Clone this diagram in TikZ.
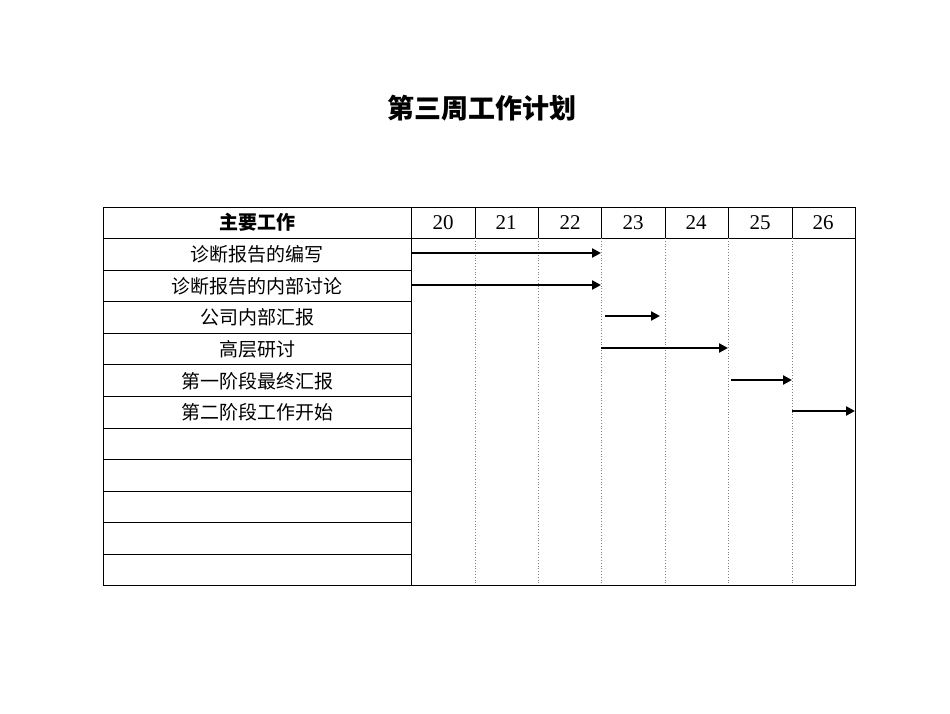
\documentclass[tikz,border=0pt]{standalone}
\usepackage{fontspec}
\setmainfont{Liberation Serif}
\newfontfamily\cjk{Noto Sans CJK SC}
\usetikzlibrary{arrows.meta}
\begin{document}
\begin{tikzpicture}[x=1pt,y=-1pt,
  grid/.style={line width=1pt,black},
  dotline/.style={line width=0.8pt,gray,dotted},
  bar/.style={line width=2.6pt,-{Triangle[length=9pt,width=9pt]}},
  cell/.style={font=\cjk\fontsize{19}{19}\selectfont,inner sep=0pt},
  num/.style={font=\fontsize{21}{21}\selectfont,inner sep=0pt}]
\useasboundingbox (0,0) rectangle (950,713);
\node[font=\cjk\bfseries\fontsize{27}{27}\selectfont] (title) at (482,108) {第三周工作计划};
% header
\draw[grid] (103,207) rectangle (855,585);
\draw[grid] (103,238) -- (855,238);
\draw[grid] (411,207) -- (411,585);
\foreach \x in {475,538,601,665,728,792} {\draw[grid,line width=0.8pt] (\x,207) -- (\x,238); \draw[dotline] (\x,238) -- (\x,585);}
\foreach \y in {270,301,333,364,396,428,459,491,522,554} \draw[grid] (103,\y) -- (411,\y);
\node[font=\cjk\bfseries\fontsize{19}{19}\selectfont] (h) at (257,222) {主要工作};
\foreach \n/\x in {20/443,21/506,22/570,23/633,24/696,25/760,26/823} \node[num] (d\n) at (\x,223) {\n};
\node[cell] (r1) at (257,254) {诊断报告的编写};
\node[cell] (r2) at (257,286) {诊断报告的内部讨论};
\node[cell] (r3) at (257,317) {公司内部汇报};
\node[cell] (r4) at (257,349) {高层研讨};
\node[cell] (r5) at (257,381) {第一阶段最终汇报};
\node[cell] (r6) at (257,412) {第二阶段工作开始};
\coordinate (a1) at (411,253); \coordinate (b1) at (601,253);
\coordinate (a2) at (411,285); \coordinate (b2) at (601,285);
\coordinate (a3) at (605,316); \coordinate (b3) at (660,316);
\coordinate (a4) at (601,348); \coordinate (b4) at (728,348);
\coordinate (a5) at (731,380); \coordinate (b5) at (792,380);
\coordinate (a6) at (792,411); \coordinate (b6) at (855,411);
\foreach \i in {1,...,6} \draw[bar] (a\i) -- (b\i);
\end{tikzpicture}
\end{document}
